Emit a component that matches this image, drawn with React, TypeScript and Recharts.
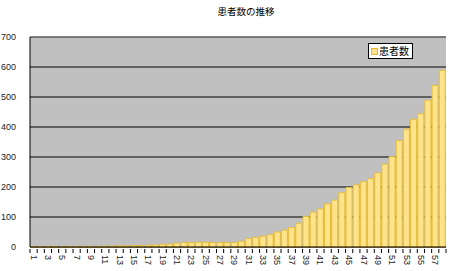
import React from "react";
import {
  BarChart,
  Bar,
  XAxis,
  YAxis,
  CartesianGrid,
  ReferenceLine,
} from "recharts";

// day numbers along the x axis
const days = [
  "1", "2", "3", "4", "5", "6", "7", "8", "9", "10",
  "11", "12", "13", "14", "15", "16", "17", "18", "19", "20",
  "21", "22", "23", "24", "25", "26", "27", "28", "29", "30",
  "31", "32", "33", "34", "35", "36", "37", "38", "39", "40",
  "41", "42", "43", "44", "45", "46", "47", "48", "49", "50",
  "51", "52", "53", "54", "55", "56", "57", "58",
];

// 患者数
const patients = [
  1, 1, 1, 1, 1, 2, 2, 2, 2, 2,
  3, 3, 4, 4, 5, 5, 6, 7, 9, 10,
  13, 15, 15, 16, 16, 15, 15, 15, 15, 19,
  28, 32, 36, 41, 50, 56, 65, 79, 102, 116,
  127, 144, 156, 181, 198, 207, 218, 228, 247, 276,
  301, 355, 393, 426, 444, 489, 539, 589,
];

const yTicks = [0, 100, 200, 300, 400, 500, 600, 700];

const rows = days.map((d, i) => ({ day: d, count: patients[i] }));

const W = 450;
const H = 271;
const PLOT_LEFT = 30;
const PLOT_RIGHT = 4;
const HALF_BAND = (W - PLOT_LEFT - PLOT_RIGHT) / days.length / 2;

const NUM_FONT = "'Liberation Sans', Arial, sans-serif";
const JP_FONT = "'Noto Sans CJK JP', sans-serif";

// category ticks sit between bars, labels only on odd days
function DayTick(props: any) {
  const { x, y, index, payload } = props;
  const showLabel = index % 2 === 0;
  return (
    <g>
      <line x1={x + HALF_BAND} y1={y} x2={x + HALF_BAND} y2={y + 4} stroke="#000" />
      {index === 0 && <line x1={x - HALF_BAND} y1={y} x2={x - HALF_BAND} y2={y + 4} stroke="#000" />}
      {showLabel && (
        <text
          x={x}
          y={y + 6}
          transform={`rotate(90, ${x}, ${y + 6})`}
          textAnchor="start"
          dominantBaseline="central"
          fontSize={9}
          fontFamily={NUM_FONT}
          fill="#222"
        >
          {payload.value}
        </text>
      )}
    </g>
  );
}

export default function App() {
  return (
    <div style={{ position: "absolute", left: 0, top: 0, width: W, height: H, background: "#fff" }}>
      <div
        style={{
          position: "absolute",
          top: 4,
          left: PLOT_LEFT + 8,
          width: W - PLOT_LEFT - PLOT_RIGHT,
          textAlign: "center",
          fontFamily: JP_FONT,
          fontSize: 9.5,
          color: "#000",
        }}
      >
        患者数の推移
      </div>
      <BarChart
        width={W}
        height={H}
        data={rows}
        margin={{ top: 37, right: PLOT_RIGHT, bottom: 0, left: 0 }}
        barCategoryGap="6%"
      >
        <CartesianGrid vertical={false} stroke="#000" fill="#C0C0C0" fillOpacity={1} yAxisId="left" />
        <XAxis
          dataKey="day"
          interval={0}
          height={24}
          tickSize={0}
          tickLine={false}
          axisLine={{ stroke: "#000" }}
          tick={<DayTick />}
        />
        <YAxis
          yAxisId="left"
          width={PLOT_LEFT}
          domain={[0, 700]}
          ticks={yTicks}
          tickLine={false}
          axisLine={{ stroke: "#000" }}
          tick={{ fontSize: 9, fill: "#222", fontFamily: NUM_FONT }}
          tickMargin={8}
        />
        <YAxis
          yAxisId="right"
          orientation="right"
          width={0}
          domain={[0, 700]}
          tick={false}
          tickLine={false}
          axisLine={{ stroke: "#808080" }}
        />
        <ReferenceLine yAxisId="left" y={700} stroke="#808080" />
        <Bar
          yAxisId="left"
          dataKey="count"
          name="患者数"
          fill="#FFE38A"
          stroke="#E6BE3C"
          strokeWidth={1}
          isAnimationActive={false}
        />
      </BarChart>
      <div
        style={{
          position: "absolute",
          top: 43,
          left: 368,
          border: "1px solid #000",
          background: "#fff",
          fontFamily: JP_FONT,
          fontSize: 10,
          lineHeight: "14px",
          padding: "0 3px 0 2px",
          display: "flex",
          alignItems: "center",
          color: "#000",
        }}
      >
        <span
          style={{
            display: "inline-block",
            width: 5,
            height: 5,
            background: "#FFE38A",
            border: "1px solid #E0B830",
            marginRight: 1,
          }}
        />
        患者数
      </div>
    </div>
  );
}
